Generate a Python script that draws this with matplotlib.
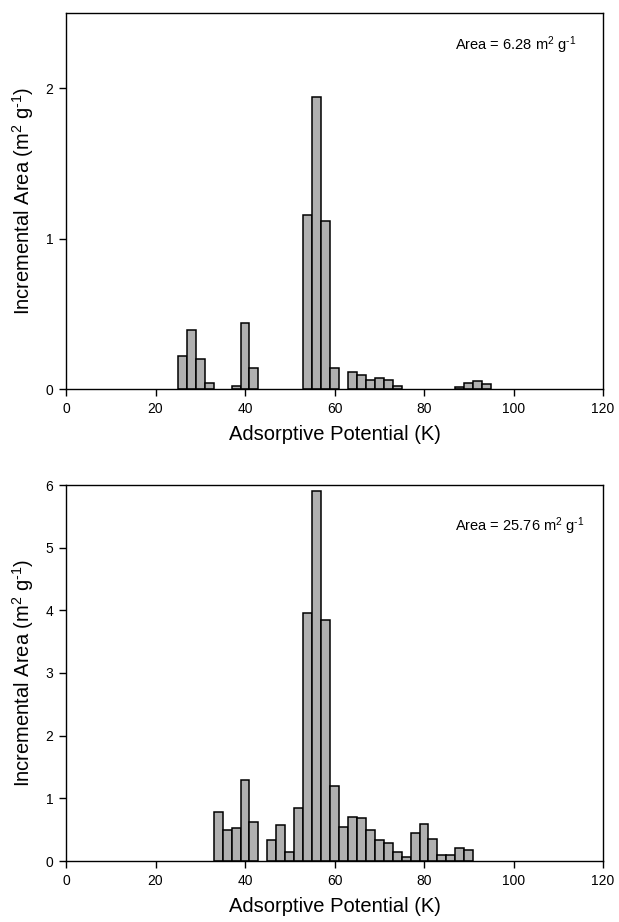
import matplotlib
matplotlib.use("Agg")
import matplotlib.pyplot as plt

plt.rcParams['font.family'] = ['Liberation Sans', 'DejaVu Sans']
plt.rcParams['mathtext.fontset'] = 'custom'
plt.rcParams['mathtext.rm'] = 'Liberation Sans'
plt.rcParams['mathtext.it'] = 'Liberation Sans'
plt.rcParams['mathtext.default'] = 'regular'

# Top panel data
top_x = [26, 28, 30, 32, 38, 40, 42, 54, 56, 58, 60, 64, 66, 68, 70, 72, 74, 88, 90, 92, 94]
top_y = [0.22, 0.39, 0.20, 0.04, 0.02, 0.44, 0.14, 1.16, 1.94, 1.12, 0.14,
         0.11, 0.09, 0.06, 0.07, 0.06, 0.02, 0.01, 0.04, 0.05, 0.03]
top_area = "Area = 6.28 m$^{2}$ g$^{\\text{-}1}$"

# Bottom panel data
bot_x = [34, 36, 38, 40, 42, 46, 48, 50, 52, 54, 56, 58, 60, 62, 64, 66, 68,
         70, 72, 74, 76, 78, 80, 82, 84, 86, 88, 90]
bot_y = [0.78, 0.50, 0.53, 1.29, 0.62, 0.33, 0.57, 0.15, 0.85, 3.95, 5.90, 3.84,
         1.19, 0.54, 0.70, 0.69, 0.50, 0.34, 0.28, 0.14, 0.07, 0.45, 0.59, 0.35,
         0.09, 0.09, 0.20, 0.17]
bot_area = "Area = 25.76 m$^{2}$ g$^{\\text{-}1}$"

x_ticks = [0, 20, 40, 60, 80, 100, 120]
xlabel = "Adsorptive Potential (K)"
ylabel = "Incremental Area (m$^{2}$ g$^{\\text{-}1}$)"

W, H = 619, 922
fig = plt.figure(figsize=(W / 100, H / 100), dpi=100)

def add_ax(left, top, right, bottom):
    return fig.add_axes([left / W, 1 - bottom / H, (right - left) / W, (bottom - top) / H])

ax1 = add_ax(66, 13, 603, 389)
ax2 = add_ax(66, 485, 603, 861)

def style(ax, xs, ys, ymax, yticks, area, ty):
    ax.bar(xs, ys, width=2.0, color='#b0b0b0', edgecolor='black', linewidth=1.1, align='center')
    ax.set_xlim(0, 120)
    ax.set_ylim(0, ymax)
    ax.set_xticks(x_ticks)
    ax.set_yticks(yticks)
    ax.tick_params(direction='out', length=5, width=1, labelsize=10, pad=4)
    for s in ax.spines.values():
        s.set_linewidth(1.0)
    ax.set_xlabel(xlabel, fontsize=14.5, labelpad=7)
    ax.set_ylabel(ylabel, fontsize=14.5, labelpad=7)
    ax.text(455 / W, ty, area, transform=fig.transFigure, ha='left', va='center', fontsize=10.5)

style(ax1, top_x, top_y, 2.5, [0, 1, 2], top_area, 1 - 45 / H)
style(ax2, bot_x, bot_y, 6, [0, 1, 2, 3, 4, 5, 6], bot_area, 1 - 526 / H)

fig.savefig("out.png", dpi=100)
